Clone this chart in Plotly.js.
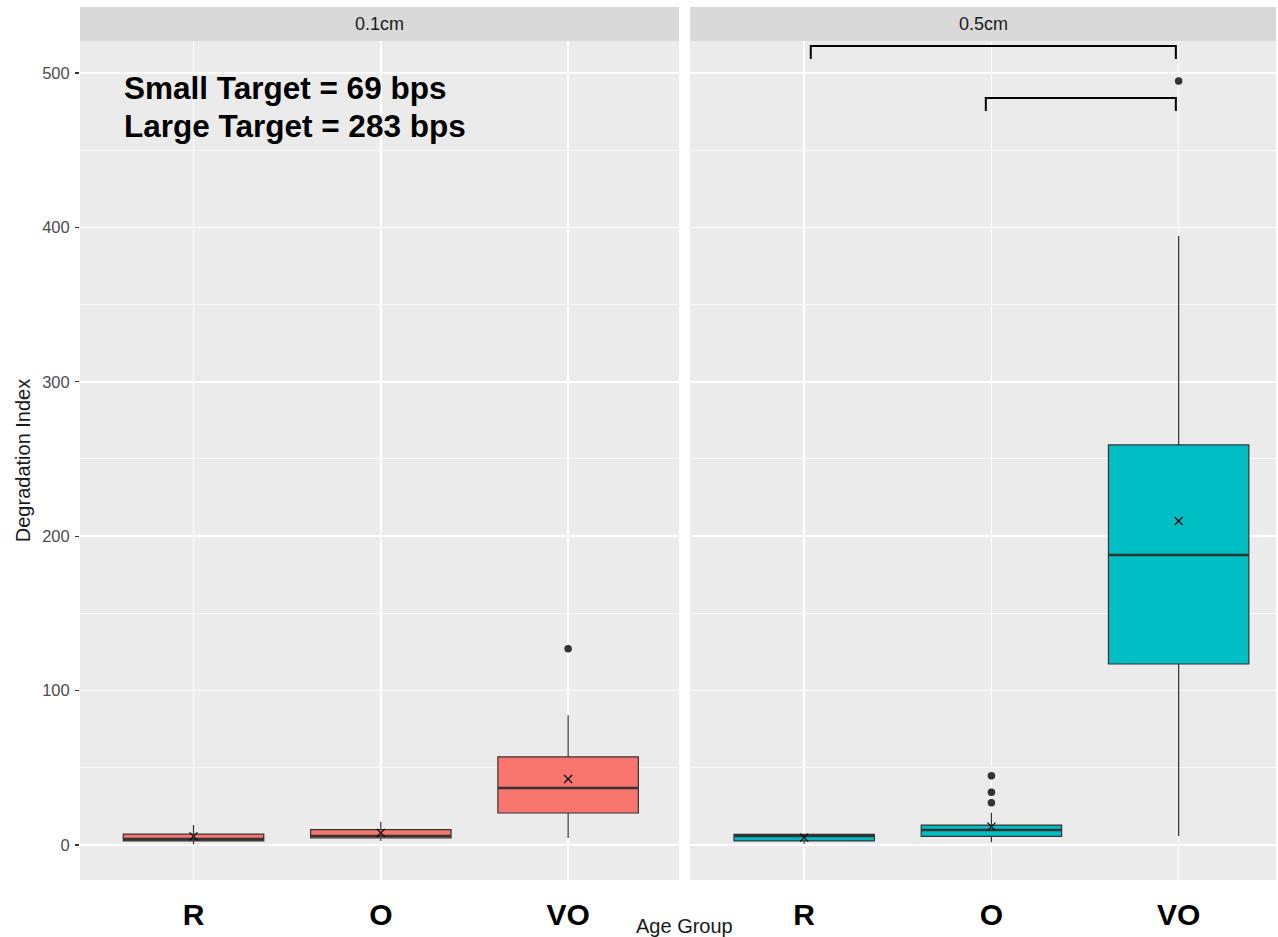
<!DOCTYPE html>
<html>
<head>
<meta charset="utf-8">
<script src="https://cdn.plot.ly/plotly-3.0.1.min.js"></script>
<style>html,body{margin:0;padding:0;background:#fff;}#chart{width:1278px;height:937px;}</style>
</head>
<body>
<div id="chart"></div>
<script>
// ---- data ----
const categories = ['R', 'O', 'VO'];
const panels = ['0.1cm', '0.5cm'];

// 0.1cm panel
const small_q1 = [2.6, 4.5, 20.7];
const small_median = [3.8, 5.8, 36.9];
const small_q3 = [7.0, 9.9, 57.0];
const small_lower = [0.5, 2.6, 4.5];
const small_upper = [13.0, 15.0, 84.0];
const small_mean = [5.6, 7.8, 42.7];
const small_outlier_cat = [2];
const small_outlier_val = [127];

// 0.5cm panel
const large_q1 = [2.6, 5.6, 117.2];
const large_median = [5.8, 9.7, 187.8];
const large_q3 = [6.9, 12.9, 259.1];
const large_lower = [0.8, 1.7, 5.8];
const large_upper = [7.3, 20.9, 394.4];
const large_mean = [4.7, 11.9, 209.8];
const large_outlier_cat = [1, 1, 1, 2];
const large_outlier_val = [44.9, 34.1, 27.4, 494.8];

// significance brackets in 0.5cm panel (category indices)
const bracket_from = [0, 1];
const bracket_to = [2, 2];
const bracket_y = [517.5, 483.8];

const noteLines = ['Small Target = 69 bps', 'Large Target = 283 bps'];
const noteY = [490, 465.5];

// ---- styling ----
const colSmall = '#F8766D', colLarge = '#00BFC4', edge = '#333333';
const boxW = 0.75;
const idx = categories.map((c, i) => i);

function panelTraces(xa, ya, fill, q1, med, q3, lo, hi, mean, ocat, oval) {
  const t = [];
  t.push({
    type: 'box', xaxis: xa, yaxis: ya, x: idx,
    q1: q1, median: med, q3: q3, lowerfence: lo, upperfence: hi,
    width: boxW, whiskerwidth: 0, boxpoints: false,
    fillcolor: fill, line: {color: edge, width: 1.2},
    hoverinfo: 'skip', showlegend: false
  });
  const mx = [], my = [];
  idx.forEach((i, k) => { mx.push(i - boxW / 2, i + boxW / 2, null); my.push(med[k], med[k], null); });
  t.push({type: 'scatter', mode: 'lines', xaxis: xa, yaxis: ya, x: mx, y: my,
    line: {color: edge, width: 2.6}, hoverinfo: 'skip', showlegend: false});
  t.push({type: 'scatter', mode: 'markers', xaxis: xa, yaxis: ya, x: ocat, y: oval,
    marker: {color: edge, size: 7.5, symbol: 'circle'}, hoverinfo: 'skip', showlegend: false});
  t.push({type: 'scatter', mode: 'markers', xaxis: xa, yaxis: ya, x: idx, y: mean,
    marker: {symbol: 'x-thin', size: 8, line: {color: '#000', width: 1.2}}, hoverinfo: 'skip', showlegend: false});
  return t;
}

let data = [];
data = data.concat(panelTraces('x', 'y', colSmall, small_q1, small_median, small_q3, small_lower, small_upper, small_mean, small_outlier_cat, small_outlier_val));
data = data.concat(panelTraces('x2', 'y2', colLarge, large_q1, large_median, large_q3, large_lower, large_upper, large_mean, large_outlier_cat, large_outlier_val));

// brackets
const bx = [], by = [];
const drop = 8.5;
bracket_from.forEach((f, k) => {
  const a = f + (k === 0 ? 0.035 : -0.03), b = bracket_to[k] - 0.015, h = bracket_y[k];
  bx.push(a, a, b, b, null); by.push(h - drop, h, h, h - drop, null);
});
data.push({type: 'scatter', mode: 'lines', xaxis: 'x2', yaxis: 'y2', x: bx, y: by,
  line: {color: '#000', width: 2}, hoverinfo: 'skip', showlegend: false});

const yTop = 839 / 873;
const yRange = [-22.7, 520.7];
const xAxisCommon = {
  tickvals: idx, ticktext: categories, showgrid: true, gridcolor: '#FFFFFF', gridwidth: 1.5,
  zeroline: false, showline: false, ticks: '', fixedrange: true, ticklabelstandoff: 14,
  tickfont: {family: 'Liberation Sans, Arial, sans-serif', size: 30, color: '#000', weight: 'bold'}
};
const yAxisCommon = {
  range: yRange, domain: [0, yTop], tickvals: [0, 100, 200, 300, 400, 500],
  showgrid: true, gridcolor: '#FFFFFF', gridwidth: 1.5, zeroline: false, showline: false,
  minor: {tickvals: [50, 150, 250, 350, 450], showgrid: true, gridcolor: '#FFFFFF', gridwidth: 0.8, ticks: ''},
  fixedrange: true
};

const layout = {
  width: 1278, height: 937,
  margin: {l: 80, r: 2, t: 7, b: 57},
  paper_bgcolor: '#FFFFFF', plot_bgcolor: '#EBEBEB',
  font: {family: 'Liberation Sans, Arial, sans-serif'},
  showlegend: false,
  xaxis: Object.assign({}, xAxisCommon, {domain: [0, 599 / 1196], range: [-0.606, 2.592], anchor: 'y'}),
  xaxis2: Object.assign({}, xAxisCommon, {domain: [610 / 1196, 1], range: [-0.61, 2.52], anchor: 'y2'}),
  yaxis: Object.assign({}, yAxisCommon, {anchor: 'x', ticks: 'outside', ticklen: 4, tickwidth: 1.1, tickcolor: '#333333',
    ticklabelstandoff: 2,
    tickfont: {size: 16.5, color: '#4D4D4D'},
    title: {text: 'Degradation Index', font: {size: 20, color: '#1A1A1A'}, standoff: 6}}),
  yaxis2: Object.assign({}, yAxisCommon, {anchor: 'x2', showticklabels: false, ticks: ''}),
  shapes: [
    {type: 'rect', xref: 'x domain', yref: 'paper', x0: 0, x1: 1, y0: yTop, y1: 1, fillcolor: '#D9D9D9', line: {width: 0}, layer: 'below'},
    {type: 'rect', xref: 'x2 domain', yref: 'paper', x0: 0, x1: 1, y0: yTop, y1: 1, fillcolor: '#D9D9D9', line: {width: 0}, layer: 'below'}
  ],
  annotations: [
    {xref: 'x domain', yref: 'paper', x: 0.5, y: (yTop + 1) / 2, text: panels[0], showarrow: false,
      xanchor: 'center', yanchor: 'middle', font: {size: 18, color: '#1A1A1A'}},
    {xref: 'x2 domain', yref: 'paper', x: 0.5, y: (yTop + 1) / 2, text: panels[1], showarrow: false,
      xanchor: 'center', yanchor: 'middle', font: {size: 18, color: '#1A1A1A'}},
    {xref: 'paper', yref: 'paper', x: 604 / 1196, y: -46 / 873, text: 'Age Group', showarrow: false,
      xanchor: 'center', yanchor: 'middle', font: {size: 20, color: '#1A1A1A'}}
  ].concat(noteLines.map((t, k) => ({
    xref: 'x', yref: 'y', x: -0.38, y: noteY[k], text: '<b>' + t + '</b>', showarrow: false,
    xanchor: 'left', yanchor: 'middle', font: {size: 31.5, color: '#000'}
  })))
};

Plotly.newPlot('chart', data, layout, {staticPlot: true, displayModeBar: false});
</script>
</body>
</html>
